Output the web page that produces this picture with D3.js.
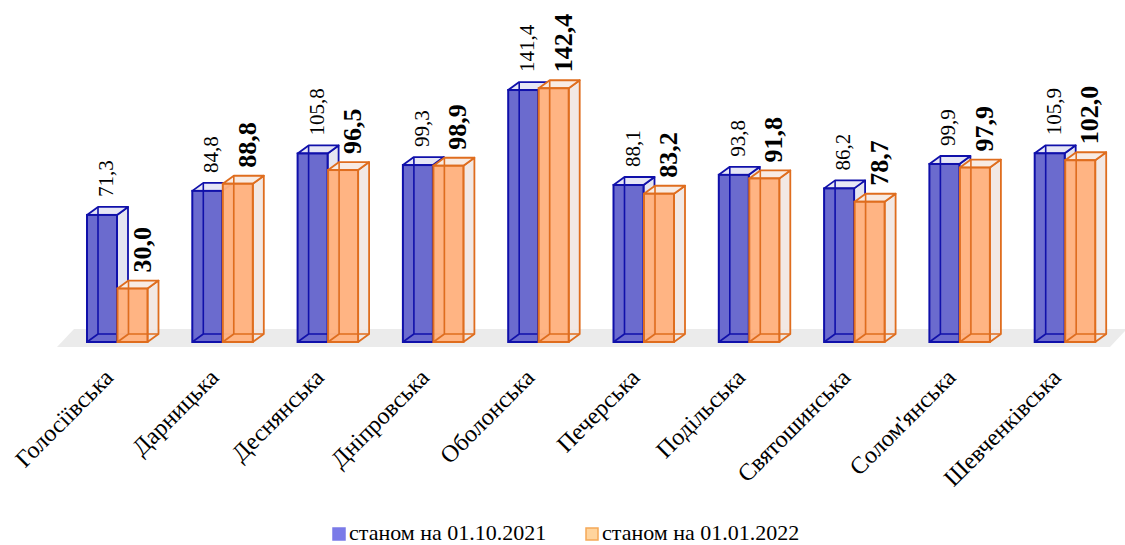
<!DOCTYPE html>
<html><head><meta charset="utf-8">
<script src="https://cdn.jsdelivr.net/npm/d3@7"></script>
<style>body{margin:0;background:#fff}svg{display:block}</style>
</head><body><svg id="c" width="1125" height="545"></svg>
<script>
const categories = ["Голосіївська","Дарницька","Деснянська","Дніпровська","Оболонська","Печерська","Подільська","Святошинська","Солом'янська","Шевченківська"];
const series2021 = [71.3,84.8,105.8,99.3,141.4,88.1,93.8,86.2,99.9,105.9];
const series2022 = [30.0,88.8,96.5,98.9,142.4,83.2,91.8,78.7,97.9,102.0];
const seriesNames = ["станом на 01.10.2021","станом на 01.01.2022"];

const FONT = '"Liberation Serif"';
const svg = d3.select("#c");
const x = d3.scaleBand().domain(categories).range([68, 1121]).padding(0);
const y = d3.scaleLinear().domain([0, 150]).range([342, 342 - 150 * 1.782]);
const DX = 11, DY = -8, BW = 30;
const fmt = v => d3.format(".1f")(v).replace(".", ",");

// floor
svg.append("polygon")
  .attr("points", [[57,347],[1110,347],[1127,329],[74,329]].map(p=>p.join(",")).join(" "))
  .attr("fill", "#ebebeb");

const styles = [
  {front:"#6666cc", stroke:"#1010aa", side:"#e2e2ee", top:"#e6e6f5", offset:19, base:26, bold:false, size:21, gap:10},
  {front:"#ffb27f", stroke:"#df6d1e", side:"#f1e6e1", top:"#f8ebe3", offset:49.5, base:33, bold:true, size:26, gap:8}
];
const seriesData = [series2021, series2022];

seriesData.forEach((vals, si) => {
  const st = styles[si];
  const g = svg.append("g");
  const bars = g.selectAll("g").data(categories.map((c,i)=>({c, v: vals[i]}))).join("g");
  bars.each(function(d){
    const gg = d3.select(this);
    const x0 = x(d.c) + st.offset, x1 = x0 + BW;
    const yt = y(d.v), yb = y(0);
    const pts = a => a.map(p=>p.join(",")).join(" ");
    gg.append("polygon").attr("points", pts([[x1,yb],[x1+DX,yb+DY],[x1+DX,yt+DY],[x1,yt]]))
      .attr("fill", st.side).attr("fill-opacity", 0.9).attr("stroke", st.stroke).attr("stroke-width", 1.8).attr("stroke-linejoin","round");
    gg.append("polygon").attr("points", pts([[x0,yt],[x0+DX,yt+DY],[x1+DX,yt+DY],[x1,yt]]))
      .attr("fill", st.top).attr("stroke", st.stroke).attr("stroke-width", 1.8).attr("stroke-linejoin","round");
    gg.append("rect").attr("x", x0).attr("y", yt).attr("width", BW).attr("height", yb - yt)
      .attr("fill", st.front).attr("fill-opacity", 0.97);
    gg.append("path").attr("d", `M${x0+DX},${yt+DY}L${x0+DX},${yb+DY}L${x1+DX},${yb+DY}M${x0},${yb}L${x0+DX},${yb+DY}`)
      .attr("fill","none").attr("stroke", st.stroke).attr("stroke-width", 1.6);
    gg.append("rect").attr("x", x0).attr("y", yt).attr("width", BW).attr("height", yb - yt)
      .attr("fill", "none").attr("stroke", st.stroke).attr("stroke-width", 2);
    gg.append("text")
      .attr("transform", `translate(${x0 + st.base},${yt + DY - st.gap}) rotate(-90)`)
      .attr("text-anchor", "start")
      .style("font-family", FONT).style("font-size", st.size + "px")
      .style("font-weight", st.bold ? "bold" : "normal")
      .attr("fill", "#000")
      .text(fmt(d.v));
  });
});

// x labels
svg.append("g").selectAll("text").data(categories).join("text")
  .attr("transform", d => `translate(${x(d) + x.bandwidth()/2 - 6},${379}) rotate(-45)`)
  .attr("text-anchor", "end")
  .style("font-family", FONT).style("font-size", "24px").attr("fill", "#000")
  .text(d => d);

// legend
const legend = [
  {name: seriesNames[0], fill:"#7b7be8", stroke:"#7b7be8", x:332},
  {name: seriesNames[1], fill:"#ffd49d", stroke:"#f5a857", x:585}
];
const lg = svg.append("g").selectAll("g").data(legend).join("g")
  .attr("transform", d => `translate(${d.x},528)`);
lg.append("rect").attr("x",1).attr("y",0).attr("width",12).attr("height",12)
  .attr("fill", d=>d.fill).attr("stroke", d=>d.stroke).attr("stroke-width",1.5);
lg.append("text").attr("x",17).attr("y",12)
  .style("font-family", FONT).style("font-size","22px")
  .attr("fill","#000").text(d=>d.name);
</script></body></html>
